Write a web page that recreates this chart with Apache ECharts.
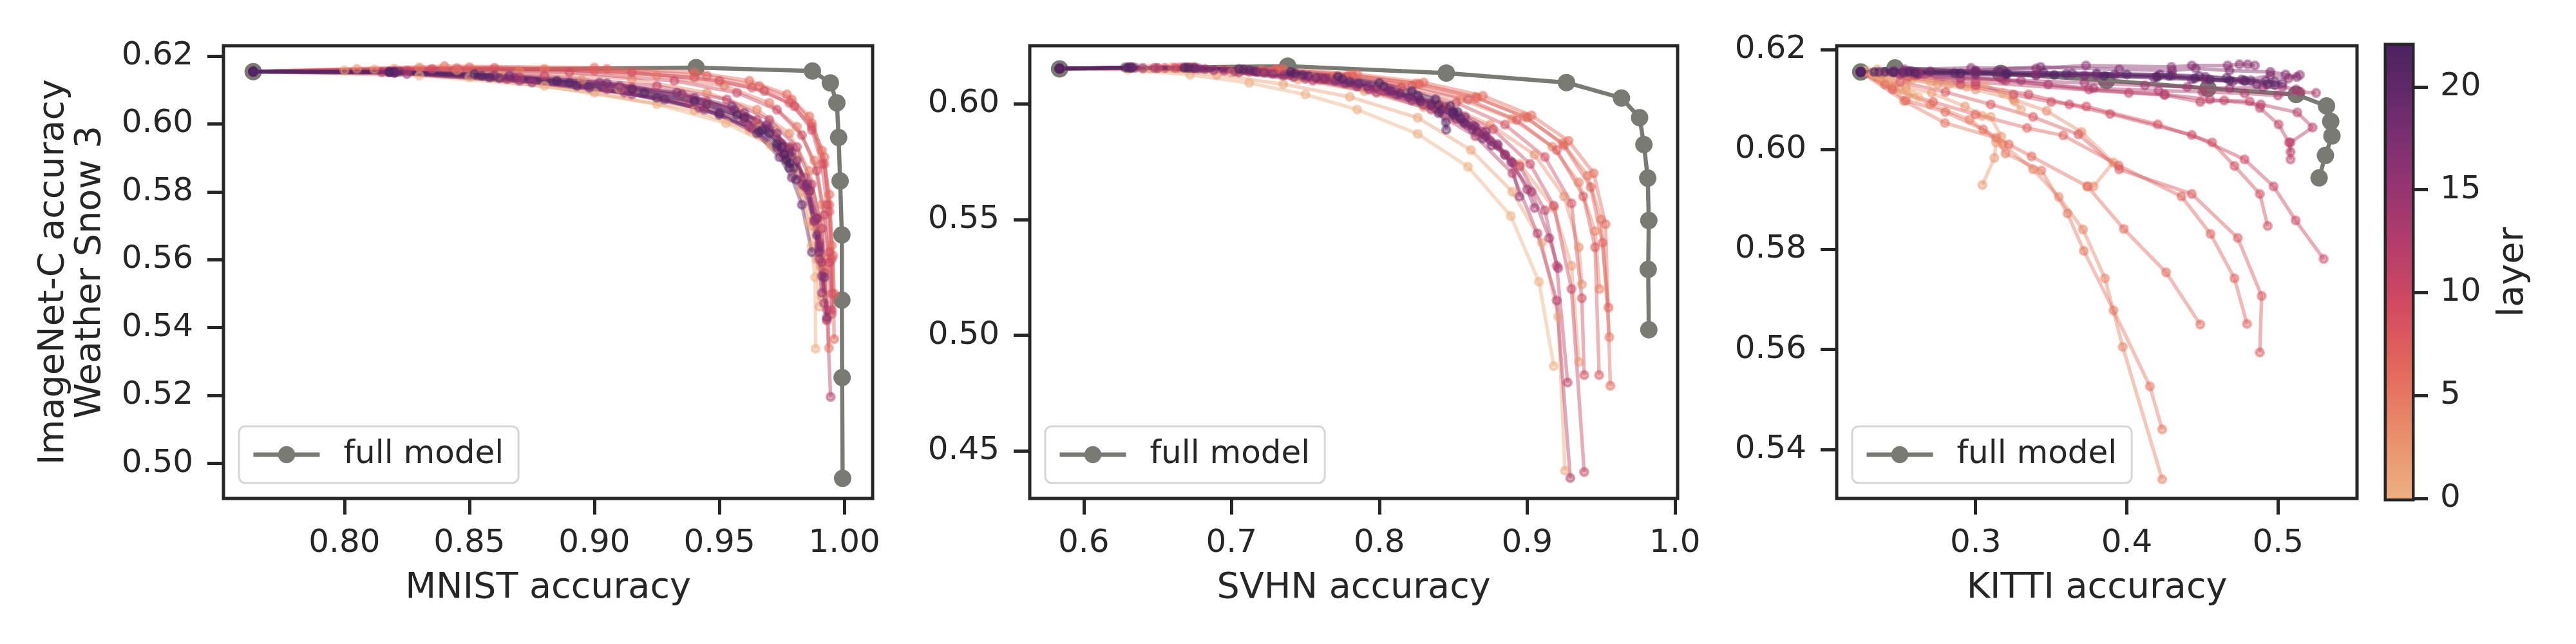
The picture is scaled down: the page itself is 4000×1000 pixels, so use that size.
<!DOCTYPE html>
<html>
<head>
<meta charset="utf-8">
<script src="https://cdn.jsdelivr.net/npm/echarts@6/dist/echarts.min.js"></script>
<style>
html,body{margin:0;padding:0;background:#ffffff;}
#chart{width:4000px;height:1000px;}
</style>
</head>
<body>
<div id="chart"></div>
<script>
// ---------------- DATA ----------------
const layerIds = [0,1,2,3,4,5,6,7,8,9,10,11,12,13,14,15,16,17,18,19,20,21,22];
const colorbarTicks = [0, 5, 10, 15, 20];

const mnistTicks = [0.80, 0.85, 0.90, 0.95, 1.00];
const svhnTicks = [0.6, 0.7, 0.8, 0.9, 1.0];
const kittiTicks = [0.3, 0.4, 0.5];
const mnistYTicks = [0.50, 0.52, 0.54, 0.56, 0.58, 0.60, 0.62];
const svhnYTicks = [0.45, 0.50, 0.55, 0.60];
const kittiYTicks = [0.54, 0.56, 0.58, 0.60, 0.62];

// full model curves
const mnistFullX = [0.7635, 0.9407, 0.9872, 0.9944, 0.9970, 0.9977, 0.9983, 0.9990, 0.9990, 0.9991, 0.9993];
const mnistFullY = [0.6154, 0.6166, 0.6156, 0.6121, 0.6062, 0.5960, 0.5832, 0.5673, 0.5481, 0.5253, 0.4956];
const svhnFullX = [0.5837, 0.7380, 0.8453, 0.9266, 0.9638, 0.9761, 0.9790, 0.9816, 0.9823, 0.9819, 0.9823];
const svhnFullY = [0.6151, 0.6163, 0.6133, 0.6092, 0.6025, 0.5940, 0.5824, 0.5679, 0.5496, 0.5285, 0.5024];
const kittiFullX = [0.2240, 0.2467, 0.3166, 0.3866, 0.4537, 0.5120, 0.5321, 0.5349, 0.5357, 0.5314, 0.5272];
const kittiFullY = [0.6155, 0.6163, 0.6152, 0.6138, 0.6122, 0.6110, 0.6087, 0.6056, 0.6027, 0.5988, 0.5943];

// per-layer curves (layer 0 .. 22), [x, y]
const mnistLayerCurves = [
[[0.7635,0.6154],[0.830,0.6142],[0.880,0.6112],[0.925,0.6058],[0.9527,0.6002],[0.9706,0.5937],[0.980,0.5860],[0.9855,0.5711],[0.9868,0.5640],[0.9883,0.5548],[0.9885,0.5338]],
[[0.7635,0.6154],[0.800,0.6158],[0.850,0.6138],[0.900,0.6092],[0.940,0.6040],[0.962,0.5982],[0.976,0.5902],[0.983,0.5800],[0.987,0.5700],[0.989,0.5600],[0.990,0.5462]],
[[0.7635,0.6154],[0.812,0.6160],[0.862,0.6142],[0.910,0.6102],[0.945,0.6055],[0.965,0.6000],[0.978,0.5930],[0.984,0.5830],[0.988,0.5720],[0.990,0.5610],[0.991,0.5490]],
[[0.7635,0.6154],[0.805,0.6162],[0.845,0.6158],[0.895,0.6130],[0.935,0.6090],[0.958,0.6040],[0.972,0.5980],[0.981,0.5900],[0.986,0.5800],[0.989,0.5690],[0.9905,0.5580]],
[[0.7635,0.6154],[0.820,0.6162],[0.870,0.6156],[0.915,0.6132],[0.945,0.6092],[0.965,0.6042],[0.978,0.5972],[0.986,0.5862],[0.990,0.5722],[0.992,0.5572],[0.993,0.5422]],
[[0.7635,0.6154],[0.830,0.6166],[0.880,0.6162],[0.925,0.6142],[0.952,0.6112],[0.970,0.6062],[0.981,0.5992],[0.988,0.5892],[0.991,0.5762],[0.993,0.5602],[0.9938,0.5340]],
[[0.7635,0.6154],[0.840,0.6170],[0.900,0.6166],[0.940,0.6152],[0.962,0.6127],[0.977,0.6087],[0.986,0.6022],[0.991,0.5922],[0.994,0.5792],[0.995,0.5642],[0.996,0.5500]],
[[0.7635,0.6154],[0.850,0.6167],[0.905,0.6162],[0.945,0.6142],[0.966,0.6112],[0.979,0.6072],[0.987,0.6002],[0.992,0.5902],[0.994,0.5762],[0.9955,0.5612],[0.9959,0.5366]],
[[0.7635,0.6154],[0.845,0.6164],[0.900,0.6157],[0.940,0.6137],[0.963,0.6107],[0.978,0.6062],[0.987,0.5992],[0.992,0.5882],[0.994,0.5742],[0.995,0.5602],[0.995,0.5440]],
[[0.7635,0.6154],[0.860,0.6165],[0.915,0.6152],[0.950,0.6127],[0.968,0.6097],[0.980,0.6052],[0.987,0.5982],[0.991,0.5882],[0.993,0.5762],[0.994,0.5622],[0.995,0.5500]],
[[0.7635,0.6154],[0.835,0.6162],[0.890,0.6152],[0.932,0.6127],[0.957,0.6092],[0.973,0.6042],[0.983,0.5967],[0.989,0.5862],[0.992,0.5732],[0.994,0.5592],[0.995,0.5452]],
[[0.7635,0.6154],[0.825,0.6157],[0.880,0.6142],[0.925,0.6112],[0.953,0.6072],[0.970,0.6012],[0.981,0.5932],[0.987,0.5822],[0.991,0.5692],[0.992,0.5562],[0.993,0.5422]],
[[0.7635,0.6154],[0.820,0.6152],[0.870,0.6137],[0.915,0.6107],[0.945,0.6067],[0.965,0.6012],[0.978,0.5932],[0.986,0.5802],[0.990,0.5652],[0.993,0.5452],[0.9945,0.5196]],
[[0.7635,0.6154],[0.815,0.6152],[0.865,0.6132],[0.905,0.6102],[0.938,0.6062],[0.960,0.6012],[0.975,0.5942],[0.984,0.5842],[0.989,0.5722],[0.991,0.5592],[0.992,0.5472]],
[[0.7635,0.6154],[0.820,0.6150],[0.870,0.6127],[0.912,0.6092],[0.942,0.6047],[0.962,0.5992],[0.975,0.5917],[0.983,0.5822],[0.988,0.5712],[0.990,0.5602],[0.991,0.5502]],
[[0.7635,0.6154],[0.825,0.6147],[0.875,0.6122],[0.915,0.6087],[0.944,0.6042],[0.963,0.5987],[0.976,0.5912],[0.984,0.5817],[0.988,0.5717],[0.990,0.5632],[0.991,0.5552]],
[[0.7635,0.6154],[0.820,0.6152],[0.868,0.6137],[0.910,0.6112],[0.940,0.6077],[0.960,0.6032],[0.973,0.5972],[0.981,0.5892],[0.986,0.5802],[0.989,0.5722],[0.990,0.5642]],
[[0.7635,0.6154],[0.818,0.6152],[0.860,0.6142],[0.902,0.6122],[0.933,0.6092],[0.955,0.6052],[0.969,0.5997],[0.978,0.5927],[0.985,0.5812],[0.990,0.5622],[0.993,0.5430]],
[[0.7635,0.6154],[0.822,0.6154],[0.866,0.6142],[0.905,0.6120],[0.935,0.6087],[0.956,0.6042],[0.970,0.5987],[0.979,0.5917],[0.985,0.5822],[0.989,0.5672],[0.992,0.5548]],
[[0.7635,0.6154],[0.820,0.6152],[0.862,0.6135],[0.898,0.6107],[0.928,0.6072],[0.950,0.6027],[0.965,0.5972],[0.974,0.5902],[0.979,0.5842],[0.983,0.5762],[0.987,0.5622]],
[[0.7635,0.6154],[0.818,0.6152],[0.858,0.6137],[0.893,0.6112],[0.925,0.6077],[0.950,0.6032],[0.966,0.5977],[0.973,0.5932],[0.977,0.5897],[0.9797,0.5870],[0.9808,0.5836]],
[[0.7635,0.6154],[0.820,0.6154],[0.855,0.6142],[0.890,0.6122],[0.920,0.6092],[0.945,0.6057],[0.960,0.6017],[0.970,0.5972],[0.975,0.5932],[0.9767,0.5893],[0.978,0.5870]],
[[0.7635,0.6154],[0.818,0.6154],[0.852,0.6147],[0.885,0.6127],[0.915,0.6102],[0.940,0.6067],[0.957,0.6027],[0.967,0.5982],[0.973,0.5942],[0.976,0.5910],[0.978,0.5885]]
];

const svhnLayerCurves = [
[[0.5837,0.6152],[0.630,0.6148],[0.672,0.6125],[0.712,0.6090],[0.750,0.6040],[0.785,0.5975],[0.826,0.5870],[0.860,0.5728],[0.889,0.5515],[0.908,0.5231],[0.918,0.4867]],
[[0.5837,0.6152],[0.640,0.6150],[0.690,0.6125],[0.735,0.6085],[0.780,0.6030],[0.826,0.5940],[0.862,0.5800],[0.890,0.5620],[0.910,0.5400],[0.921,0.5080],[0.9256,0.4415]],
[[0.5837,0.6152],[0.645,0.6152],[0.700,0.6135],[0.745,0.6105],[0.790,0.6055],[0.830,0.5985],[0.865,0.5885],[0.895,0.5740],[0.918,0.5550],[0.930,0.5300],[0.935,0.4885]],
[[0.5837,0.6152],[0.650,0.6155],[0.705,0.6140],[0.755,0.6115],[0.800,0.6070],[0.840,0.6005],[0.875,0.5910],[0.905,0.5780],[0.925,0.5600],[0.935,0.5380],[0.937,0.5220]],
[[0.5837,0.6152],[0.660,0.6158],[0.720,0.6145],[0.770,0.6120],[0.815,0.6080],[0.855,0.6020],[0.890,0.5935],[0.917,0.5815],[0.935,0.5660],[0.946,0.5450],[0.949,0.5200]],
[[0.5837,0.6152],[0.670,0.6158],[0.730,0.6148],[0.780,0.6125],[0.825,0.6088],[0.865,0.6030],[0.898,0.5945],[0.924,0.5830],[0.941,0.5690],[0.950,0.5500],[0.9556,0.4992]],
[[0.5837,0.6152],[0.675,0.6160],[0.735,0.6150],[0.785,0.6128],[0.830,0.6092],[0.870,0.6035],[0.903,0.5950],[0.928,0.5840],[0.945,0.5700],[0.953,0.5480],[0.9563,0.4782]],
[[0.5837,0.6152],[0.672,0.6158],[0.732,0.6148],[0.782,0.6123],[0.827,0.6085],[0.866,0.6025],[0.900,0.5940],[0.925,0.5820],[0.943,0.5640],[0.951,0.5400],[0.955,0.5120]],
[[0.5837,0.6152],[0.668,0.6158],[0.728,0.6145],[0.778,0.6118],[0.822,0.6078],[0.860,0.6018],[0.893,0.5930],[0.920,0.5800],[0.938,0.5600],[0.946,0.5380],[0.9487,0.4828]],
[[0.5837,0.6152],[0.665,0.6157],[0.722,0.6142],[0.772,0.6113],[0.815,0.6070],[0.852,0.6005],[0.885,0.5910],[0.912,0.5770],[0.930,0.5570],[0.937,0.5160],[0.9386,0.4828]],
[[0.5837,0.6152],[0.662,0.6155],[0.718,0.6140],[0.765,0.6108],[0.808,0.6060],[0.845,0.5990],[0.877,0.5890],[0.902,0.5740],[0.918,0.5560],[0.930,0.5200],[0.9386,0.4409]],
[[0.5837,0.6152],[0.655,0.6155],[0.712,0.6138],[0.760,0.6105],[0.803,0.6055],[0.840,0.5985],[0.870,0.5880],[0.895,0.5730],[0.912,0.5540],[0.920,0.5300],[0.9274,0.4796]],
[[0.5837,0.6152],[0.650,0.6154],[0.705,0.6135],[0.755,0.6100],[0.798,0.6048],[0.835,0.5975],[0.865,0.5860],[0.890,0.5700],[0.907,0.5440],[0.920,0.5150],[0.9292,0.4383]],
[[0.5837,0.6152],[0.648,0.6155],[0.702,0.6140],[0.750,0.6108],[0.793,0.6062],[0.830,0.5995],[0.860,0.5905],[0.885,0.5780],[0.903,0.5620],[0.915,0.5420],[0.921,0.5290]],
[[0.5837,0.6152],[0.640,0.6155],[0.695,0.6143],[0.742,0.6115],[0.785,0.6075],[0.822,0.6015],[0.852,0.5935],[0.875,0.5840],[0.890,0.5745],[0.900,0.5630],[0.905,0.5550]],
[[0.5837,0.6152],[0.635,0.6156],[0.688,0.6145],[0.735,0.6122],[0.777,0.6088],[0.812,0.6040],[0.842,0.5975],[0.865,0.5900],[0.880,0.5820],[0.889,0.5750],[0.8948,0.5599]],
[[0.5837,0.6152],[0.632,0.6157],[0.682,0.6150],[0.728,0.6130],[0.770,0.6100],[0.806,0.6058],[0.835,0.6005],[0.858,0.5945],[0.872,0.5880],[0.880,0.5825],[0.885,0.5780]],
[[0.5837,0.6152],[0.630,0.6157],[0.678,0.6152],[0.722,0.6135],[0.763,0.6108],[0.798,0.6070],[0.827,0.6020],[0.850,0.5965],[0.864,0.5905],[0.872,0.5860],[0.876,0.5820]],
[[0.5837,0.6152],[0.632,0.6157],[0.675,0.6153],[0.717,0.6138],[0.757,0.6112],[0.792,0.6075],[0.820,0.6030],[0.842,0.5975],[0.857,0.5920],[0.866,0.5880],[0.870,0.5850]],
[[0.5837,0.6152],[0.633,0.6157],[0.675,0.6155],[0.715,0.6142],[0.752,0.6120],[0.786,0.6088],[0.814,0.6045],[0.835,0.5995],[0.850,0.5950],[0.858,0.5915],[0.863,0.5890]],
[[0.5837,0.6152],[0.632,0.6157],[0.672,0.6155],[0.712,0.6145],[0.748,0.6125],[0.780,0.6095],[0.808,0.6055],[0.828,0.6010],[0.840,0.5960],[0.845,0.5920],[0.8453,0.5888]],
[[0.5837,0.6152],[0.630,0.6157],[0.670,0.6156],[0.708,0.6148],[0.743,0.6132],[0.775,0.6108],[0.803,0.6075],[0.826,0.6035],[0.840,0.5995],[0.850,0.5960],[0.855,0.5935]],
[[0.5837,0.6152],[0.628,0.6157],[0.668,0.6156],[0.705,0.6150],[0.740,0.6138],[0.772,0.6118],[0.800,0.6090],[0.822,0.6055],[0.838,0.6020],[0.848,0.5990],[0.853,0.5965]]
];

const kittiLayerCurves = [
[[0.224,0.6155],[0.228,0.6158],[0.232,0.6150],[0.236,0.6148],[0.240,0.6140],[0.243,0.6135],[0.247,0.6128],[0.250,0.6120],[0.254,0.6118],[0.258,0.6110],[0.262,0.6105]],
[[0.224,0.6155],[0.235,0.6160],[0.246,0.6150],[0.258,0.6140],[0.270,0.6135],[0.282,0.6130],[0.294,0.6125],[0.306,0.6128],[0.318,0.6113],[0.326,0.6095],[0.330,0.6080]],
[[0.224,0.6155],[0.237,0.6140],[0.254,0.6125],[0.271,0.6113],[0.293,0.6086],[0.3045,0.6067],[0.310,0.6065],[0.317,0.6026],[0.3135,0.6014],[0.3124,0.5983],[0.3045,0.5929]],
[[0.224,0.6155],[0.238,0.6150],[0.255,0.6140],[0.275,0.6130],[0.300,0.6120],[0.325,0.6100],[0.347,0.6077],[0.370,0.6035],[0.391,0.5974],[0.378,0.5926],[0.374,0.5926]],
[[0.224,0.6155],[0.245,0.6125],[0.270,0.6090],[0.296,0.6060],[0.318,0.6010],[0.338,0.5960],[0.355,0.5905],[0.371,0.5840],[0.3856,0.5742],[0.3973,0.5605],[0.4234,0.5340]],
[[0.224,0.6155],[0.2527,0.6097],[0.2797,0.6053],[0.3135,0.6023],[0.3198,0.5992],[0.3435,0.5958],[0.3608,0.5872],[0.3716,0.5797],[0.3912,0.5678],[0.4153,0.5526],[0.4234,0.5440]],
[[0.224,0.6155],[0.240,0.6130],[0.254,0.6098],[0.280,0.6075],[0.305,0.6040],[0.322,0.6010],[0.337,0.5986],[0.374,0.5926],[0.398,0.5841],[0.426,0.5754],[0.4486,0.5650]],
[[0.224,0.6155],[0.245,0.6120],[0.272,0.6095],[0.300,0.6070],[0.334,0.6043],[0.358,0.6028],[0.3946,0.5968],[0.4362,0.5906],[0.4554,0.5831],[0.4712,0.5742],[0.4795,0.5651]],
[[0.224,0.6155],[0.250,0.6135],[0.280,0.6115],[0.310,0.6090],[0.338,0.6065],[0.368,0.6030],[0.395,0.5960],[0.443,0.5911],[0.4734,0.5823],[0.4892,0.5707],[0.4880,0.5594]],
[[0.224,0.6155],[0.255,0.6145],[0.290,0.6130],[0.325,0.6110],[0.350,0.6095],[0.3732,0.6086],[0.4205,0.6050],[0.4565,0.6014],[0.4712,0.5967],[0.4880,0.5911],[0.4932,0.5847]],
[[0.224,0.6155],[0.260,0.6148],[0.300,0.6128],[0.335,0.6110],[0.362,0.6090],[0.3890,0.6071],[0.4430,0.6029],[0.4779,0.5980],[0.4971,0.5926],[0.5117,0.5858],[0.5302,0.5781]],
[[0.224,0.6155],[0.300,0.6135],[0.4013,0.6113],[0.4250,0.6109],[0.4486,0.6095],[0.4644,0.6098],[0.4813,0.6096],[0.4880,0.6083],[0.5004,0.6050],[0.5072,0.6014],[0.5083,0.5980]],
[[0.224,0.6155],[0.262,0.6150],[0.320,0.6138],[0.375,0.6120],[0.425,0.6110],[0.455,0.6100],[0.4887,0.6090],[0.5128,0.6074],[0.5229,0.6044],[0.5083,0.6014],[0.5083,0.5995]],
[[0.224,0.6155],[0.262,0.6152],[0.318,0.6140],[0.348,0.6130],[0.378,0.6122],[0.421,0.6118],[0.450,0.6115],[0.478,0.6112],[0.500,0.6108],[0.515,0.6115],[0.5252,0.6113]],
[[0.224,0.6155],[0.250,0.6150],[0.290,0.6142],[0.330,0.6138],[0.372,0.6133],[0.412,0.6128],[0.440,0.6125],[0.468,0.6122],[0.490,0.6124],[0.503,0.6125],[0.512,0.6120]],
[[0.224,0.6155],[0.254,0.6155],[0.300,0.6152],[0.340,0.6150],[0.380,0.6148],[0.420,0.6146],[0.452,0.6140],[0.478,0.6138],[0.495,0.6148],[0.507,0.6142],[0.5145,0.6149]],
[[0.224,0.6155],[0.253,0.6160],[0.297,0.6163],[0.340,0.6162],[0.373,0.6168],[0.4295,0.6165],[0.443,0.6168],[0.4667,0.6168],[0.4745,0.6170],[0.4800,0.6170],[0.4847,0.6168]],
[[0.224,0.6155],[0.257,0.6157],[0.300,0.6158],[0.343,0.6165],[0.395,0.6160],[0.430,0.6158],[0.4455,0.6162],[0.468,0.6158],[0.495,0.6155],[0.505,0.6150],[0.5125,0.6145]],
[[0.224,0.6155],[0.245,0.6155],[0.262,0.6152],[0.300,0.6150],[0.340,0.6148],[0.372,0.6148],[0.418,0.6143],[0.443,0.6140],[0.470,0.6136],[0.486,0.6130],[0.498,0.6128]],
[[0.224,0.6155],[0.246,0.6157],[0.270,0.6156],[0.316,0.6155],[0.364,0.6152],[0.392,0.6150],[0.430,0.6148],[0.452,0.6145],[0.476,0.6140],[0.492,0.6137],[0.503,0.6132]],
[[0.224,0.6155],[0.236,0.6155],[0.252,0.6154],[0.300,0.6156],[0.345,0.6154],[0.380,0.6152],[0.422,0.6150],[0.448,0.6147],[0.466,0.6143],[0.482,0.6138],[0.493,0.6130]],
[[0.224,0.6155],[0.240,0.6155],[0.256,0.6155],[0.286,0.6153],[0.321,0.6152],[0.360,0.6151],[0.400,0.6150],[0.428,0.6147],[0.455,0.6140],[0.478,0.6137],[0.498,0.6135]],
[[0.224,0.6155],[0.233,0.6155],[0.246,0.6154],[0.260,0.6153],[0.290,0.6152],[0.320,0.6150],[0.352,0.6149],[0.385,0.6147],[0.420,0.6145],[0.445,0.6142],[0.468,0.6138]]
];

// ---------------- STYLE ----------------
const FLARE = ['#EDB081','#E98D6B','#E3685C','#D14A61','#B13C6C','#8F3371','#6C2B6D','#4B2362'];
const INK = '#262626';
const GRAY = '#7a7a75';
const FONT = 'DejaVu Sans';

function hexRGB(h){ return [parseInt(h.slice(1,3),16), parseInt(h.slice(3,5),16), parseInt(h.slice(5,7),16)]; }
function flare(t){
  const n = FLARE.length - 1;
  const p = Math.max(0, Math.min(1, t)) * n;
  const i = Math.min(Math.floor(p), n - 1);
  const f = p - i;
  const a = hexRGB(FLARE[i]), b = hexRGB(FLARE[i + 1]);
  return a.map((v, k) => Math.round(v + (b[k] - v) * f));
}
function rgba(c, a){ return 'rgba(' + c[0] + ',' + c[1] + ',' + c[2] + ',' + a + ')'; }

const grids = [
  {left: 347, top: 71, width: 1008, height: 703},
  {left: 1599, top: 71, width: 1006, height: 703},
  {left: 2852, top: 71, width: 808, height: 703},
  {left: 3706, top: 71, width: 39, height: 703}
];

const panels = [
  {xMin: 0.7516, xMax: 1.0113, yMin: 0.48967, yMax: 0.62304, xTicks: mnistTicks, yTicks: mnistYTicks,
   xDec: 2, yDec: 2, xName: 'MNIST accuracy', fullX: mnistFullX, fullY: mnistFullY, curves: mnistLayerCurves},
  {xMin: 0.5635, xMax: 1.0018, yMin: 0.4295, yMax: 0.6251, xTicks: svhnTicks, yTicks: svhnYTicks,
   xDec: 1, yDec: 2, xName: 'SVHN accuracy', fullX: svhnFullX, fullY: svhnFullY, curves: svhnLayerCurves},
  {xMin: 0.2081, xMax: 0.5523, yMin: 0.53018, yMax: 0.62075, xTicks: kittiTicks, yTicks: kittiYTicks,
   xDec: 1, yDec: 2, xName: 'KITTI accuracy', fullX: kittiFullX, fullY: kittiFullY, curves: kittiLayerCurves}
];

const tickStyle = {show: true, inside: false, length: 25, lineStyle: {color: INK, width: 5}};

const xAxes = [], yAxes = [], series = [], legends = [];
panels.forEach((p, pi) => {
  xAxes.push({
    type: 'value', gridIndex: pi, min: p.xMin, max: p.xMax,
    axisLine: {show: false},
    axisTick: Object.assign({customValues: p.xTicks}, tickStyle),
    axisLabel: {customValues: p.xTicks, formatter: v => Number(v).toFixed(p.xDec), color: INK,
                fontSize: 50, fontFamily: FONT, margin: 45},
    splitLine: {show: false},
    name: p.xName, nameLocation: 'middle', nameGap: 112,
    nameTextStyle: {color: INK, fontSize: 55.6, fontFamily: FONT}
  });
  const ya = {
    type: 'value', gridIndex: pi, min: p.yMin, max: p.yMax, position: 'left',
    axisLine: {show: false},
    axisTick: Object.assign({customValues: p.yTicks}, tickStyle),
    axisLabel: {customValues: p.yTicks, formatter: v => Number(v).toFixed(p.yDec), color: INK,
                fontSize: 50, fontFamily: FONT, margin: 47},
    splitLine: {show: false}
  };
  if (pi === 0) {
    ya.name = 'ImageNet-C accuracy\nWeather Snow 3';
    ya.nameLocation = 'middle';
    ya.nameGap = 178;
    ya.nameRotate = 90;
    ya.nameTextStyle = {color: INK, fontSize: 55.6, fontFamily: FONT, lineHeight: 57, align: 'center'};
  }
  yAxes.push(ya);

  series.push({
    type: 'line', name: 'full model', xAxisIndex: pi, yAxisIndex: pi, z: 2,
    data: p.fullX.map((x, i) => [x, p.fullY[i]]),
    symbol: 'circle', symbolSize: 27, showAllSymbol: true,
    lineStyle: {color: GRAY, width: 6.5},
    itemStyle: {color: GRAY},
    emphasis: {disabled: true}, silent: true, animation: false
  });

  layerIds.forEach(l => {
    const c = flare(l / 22);
    series.push({
      type: 'line', name: 'layer ' + l, xAxisIndex: pi, yAxisIndex: pi, z: 3,
      data: p.curves[l],
      symbol: 'circle', symbolSize: 12, showAllSymbol: true,
      lineStyle: {color: rgba(c, 0.45), width: 5.5},
      itemStyle: {color: rgba(c, 0.45), borderColor: rgba(c, 0.45), borderWidth: 4},
      emphasis: {disabled: true}, silent: true, animation: false
    });
  });

  legends.push({
    show: true, data: ['full model'], left: grids[pi].left + 24, top: 662,
    itemWidth: 103, itemHeight: 33, itemGap: 0, selectedMode: false,
    padding: [19, 23, 19, 19],
    lineStyle: {color: GRAY, width: 7},
    itemStyle: {color: GRAY},
    textStyle: {color: INK, fontSize: 50, fontFamily: FONT, padding: [0, 0, 0, 32]},
    borderColor: '#d6d6d6', borderWidth: 3, borderRadius: 10,
    backgroundColor: 'rgba(255,255,255,0.8)'
  });
});

// colorbar
xAxes.push({type: 'category', gridIndex: 3, data: ['layer'], show: false, boundaryGap: true});
yAxes.push({
  type: 'value', gridIndex: 3, min: layerIds[0], max: layerIds[layerIds.length - 1], position: 'right',
  axisLine: {show: false},
  axisTick: Object.assign({customValues: colorbarTicks}, tickStyle),
  axisLabel: {customValues: colorbarTicks, color: INK, fontSize: 50, fontFamily: FONT, margin: 44},
  splitLine: {show: false},
  name: 'layer', nameLocation: 'middle', nameGap: 130, nameRotate: 90,
  nameTextStyle: {color: INK, fontSize: 55.6, fontFamily: FONT}
});
series.push({
  type: 'bar', xAxisIndex: 3, yAxisIndex: 3, barWidth: '100%', z: 1,
  data: [layerIds[layerIds.length - 1]],
  itemStyle: {color: new echarts.graphic.LinearGradient(0, 1, 0, 0,
    FLARE.map((c, i) => ({offset: i / (FLARE.length - 1), color: c})))},
  emphasis: {disabled: true}, silent: true, animation: false
});

const option = {
  backgroundColor: '#ffffff',
  animation: false,
  grid: grids.map((g, i) => Object.assign({
    show: true, borderColor: INK, borderWidth: i === 3 ? 9 : 5, backgroundColor: 'rgba(0,0,0,0)',
    containLabel: false, outerBoundsMode: 'none'
  }, g)),
  legend: legends,
  xAxis: xAxes,
  yAxis: yAxes,
  series: series
};

const chart = echarts.init(document.getElementById('chart'), null, {renderer: 'canvas', width: 4000, height: 1000});
chart.setOption(option);
</script>
</body>
</html>
